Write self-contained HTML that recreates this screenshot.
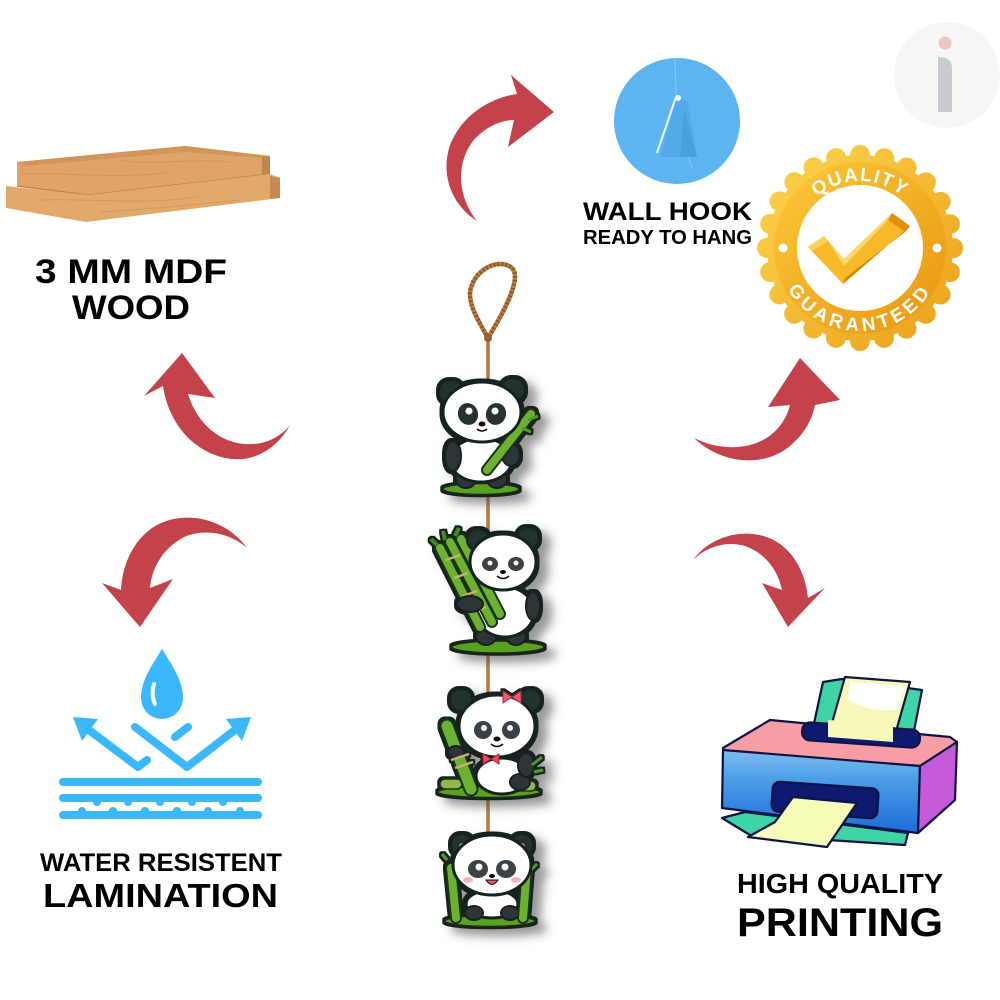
<!DOCTYPE html>
<html>
<head>
<meta charset="utf-8">
<style>
  html,body{margin:0;padding:0;background:#fff;}
  svg{display:block;}
  .t{font-family:"Liberation Sans",Arial,sans-serif;font-weight:bold;fill:#000;}
</style>
</head>
<body>
<svg width="1000" height="1000" viewBox="0 0 1000 1000" xmlns="http://www.w3.org/2000/svg">
  <defs>
    <filter id="sh" x="-30%" y="-30%" width="170%" height="170%">
      <feMorphology in="SourceAlpha" operator="dilate" radius="2.2" result="d"/>
      <feFlood flood-color="#14201f" result="fc"/>
      <feComposite in="fc" in2="d" operator="in" result="o"/>
      <feGaussianBlur in="d" stdDeviation="5" result="b"/>
      <feOffset in="b" dx="9" dy="7" result="bo"/>
      <feFlood flood-color="#444" flood-opacity="0.55" result="sc"/>
      <feComposite in="sc" in2="bo" operator="in" result="s"/>
      <feMerge><feMergeNode in="s"/><feMergeNode in="o"/><feMergeNode in="SourceGraphic"/></feMerge>
    </filter>
    <linearGradient id="gold" x1="0" y1="0" x2="1" y2="1">
      <stop offset="0" stop-color="#fdd44e"/>
      <stop offset="1" stop-color="#eba01a"/>
    </linearGradient>
    <linearGradient id="gold2" x1="0" y1="0" x2="1" y2="1">
      <stop offset="0" stop-color="#fcc93a"/>
      <stop offset="1" stop-color="#e8960f"/>
    </linearGradient>
    <linearGradient id="pblue" x1="0" y1="0" x2="0" y2="1">
      <stop offset="0" stop-color="#7fbdf0"/>
      <stop offset="0.35" stop-color="#4b9fe6"/>
      <stop offset="1" stop-color="#1c6cd6"/>
    </linearGradient>
    <path id="arcTop" d="M793,248 A67,67 0 0 1 927,248"/>
    <path id="arcBot" d="M777,248 A83,83 0 0 0 943,248"/>
  </defs>

  <rect width="1000" height="1000" fill="#fff"/>

  <!-- i logo -->
  <circle cx="947" cy="75" r="53" fill="#f8f6f5"/>
  <circle cx="945" cy="43" r="6.5" fill="#f0c4c6"/>
  <path d="M938,57 Q952,57 952,68 L952,112 L938,112 Z" fill="#cbcbcf"/>

  <!-- Wood planks -->
  <g>
    <polygon points="17,162 185,146 270,156 270,174 88,195 17,186" fill="#e0a466"/>
    <polygon points="17,162 185,146 270,156 262,158 185,152 25,166" fill="#d3965a"/>
    <polygon points="262,157 270,156 270,174 262,175" fill="#bf854d"/>
    <line x1="17" y1="186" x2="88" y2="195" stroke="#b98046" stroke-width="1.2"/>
    <line x1="88" y1="195" x2="270" y2="174" stroke="#b98046" stroke-width="1.2"/>
    <polygon points="6,186 88,195 270,174 280,178 280,198 86,222 6,208" fill="#e3a96b"/>
    <polygon points="270,176 280,178 280,198 270,199" fill="#c48a52"/>
    <path d="M20,174 C70,172 120,180 170,172 M40,200 C90,198 150,206 200,196 M120,160 C150,166 190,158 230,162 M100,212 C140,210 180,206 240,200" stroke="#c78f57" stroke-width="1" fill="none" opacity="0.6"/>
  </g>
  <text class="t" x="35" y="283" font-size="34" textLength="192" lengthAdjust="spacingAndGlyphs">3 MM MDF</text>
  <text class="t" x="72" y="319" font-size="34" textLength="118" lengthAdjust="spacingAndGlyphs">WOOD</text>

  <!-- Red arrows -->
  <g fill="#c4424a">
    <path d="M290,425 C275,444 250,448 230,441 C208,433 194,414 188,394 L215,398 L182,353 L144,396 L163,386 C168,420 190,450 225,458 C255,464 278,447 290,425 Z"/>
    <path d="M477,221 C457,196 456,163 473,141 C486,126 502,120 514,120 L508,147 L554,112 L511,75 L517,94 C490,98 462,115 450,145 C440,175 452,205 477,221 Z"/>
    <path d="M247,548 C226,518 182,508 152,528 C131,543 122,568 121,590 L102,583 L140,627 L173,579 L150,588 C152,566 164,548 184,537 C205,528 230,533 247,548 Z"/>
    <path d="M694,438 C720,463 762,469 790,446 C805,433 812,420 815,405 L840,400 L800,358 L768,407 L790,405 C785,425 770,440 750,445 C730,450 710,446 694,438 Z"/>
    <path d="M693,560 C715,530 760,525 785,548 C800,562 806,580 808,598 L825,588 L788,627 L762,583 L782,590 C778,570 765,553 745,546 C725,540 705,548 693,560 Z"/>
  </g>

  <!-- Wall hook -->
  <circle cx="677" cy="121" r="63" fill="#5db5ef"/>
  <line x1="675" y1="60" x2="676" y2="96" stroke="#8cc9f2" stroke-width="1"/>
  <polygon points="677,96 688,103 697,157 660,157" fill="#52abe8"/>
  <polygon points="684,108 697,157 680,157" fill="#3f96d6" opacity="0.5"/>
  <path d="M676,97 L657,153" stroke="#e8f4fb" stroke-width="2" fill="none"/>
  <circle cx="678" cy="98" r="3" fill="#f4f8fb"/>
  <line x1="688" y1="157" x2="692" y2="168" stroke="#8cc9f2" stroke-width="1"/>
  <text class="t" x="583" y="220" font-size="25" textLength="169" lengthAdjust="spacingAndGlyphs">WALL HOOK</text>
  <text class="t" x="583" y="244" font-size="20.5" textLength="169" lengthAdjust="spacingAndGlyphs">READY TO HANG</text>

  <!-- Quality badge -->
  <g>
    <circle cx="860" cy="248" r="93" fill="url(#gold)"/>
    <circle cx="860" cy="248" r="93" fill="none" stroke="url(#gold)" stroke-width="20" stroke-linecap="round" stroke-dasharray="0 24.347"/>
    <circle cx="860" cy="248" r="86" fill="url(#gold2)"/>
    <circle cx="860" cy="248" r="63" fill="#fff"/>
    <circle cx="783" cy="248" r="4.5" fill="#fff"/>
    <circle cx="937" cy="248" r="4.5" fill="#fff"/>
    <text font-family="Liberation Sans, Arial, sans-serif" font-weight="bold" font-size="19" fill="#fff" letter-spacing="1.5" text-anchor="middle"><textPath href="#arcTop" startOffset="50%">QUALITY</textPath></text>
    <text font-family="Liberation Sans, Arial, sans-serif" font-weight="bold" font-size="19" fill="#fff" letter-spacing="4" text-anchor="middle"><textPath href="#arcBot" startOffset="50%">GUARANTEED</textPath></text>
    <polygon points="808,247 824,236 844,259 892,213 910,226 843,284" fill="#f7b928"/>
    <polygon points="892,213 910,226 905,232 888,220" fill="#e58f0c"/>
    <polygon points="843,284 910,226 905,232 845,278" fill="#d98408"/>
    <polygon points="808,247 824,236 828,241 813,251" fill="#fcd25a"/>
    <polygon points="824,236 844,259 892,213 888,220 844,266 828,241" fill="#fdd86a"/>
  </g>

  <!-- Rope loop & strings -->
  <g fill="none" stroke-linecap="round">
    <path d="M488,338 C478,320 465,300 472,285 C478,268 500,258 512,268 C522,278 505,310 488,338" stroke="#b7793f" stroke-width="4.5"/>
    <path d="M488,338 C478,320 465,300 472,285 C478,268 500,258 512,268 C522,278 505,310 488,338" stroke="#8a5326" stroke-width="4.5" stroke-dasharray="1.5 2.5" stroke-linecap="butt"/>
    <line x1="488" y1="338" x2="488" y2="398" stroke="#b7793f" stroke-width="3.5"/>
    <line x1="488" y1="488" x2="488" y2="548" stroke="#b7793f" stroke-width="3.5"/>
    <line x1="488" y1="645" x2="488" y2="702" stroke="#b7793f" stroke-width="3.5"/>
    <line x1="488" y1="792" x2="488" y2="848" stroke="#b7793f" stroke-width="3.5"/>
    <circle cx="488" cy="338" r="4" fill="#9a6030" stroke="none"/>
  </g>

  <!-- Panda 1 -->
  <g filter="url(#sh)">
    <ellipse cx="481" cy="489" rx="38" ry="5.5" fill="#5aa21e" stroke="#1a2a1a" stroke-width="1.5"/>
    <ellipse cx="466" cy="479" rx="10" ry="9" fill="#2e3538" stroke="#182222" stroke-width="2"/>
    <ellipse cx="497" cy="479" rx="10" ry="9" fill="#2e3538" stroke="#182222" stroke-width="2"/>
    <ellipse cx="481" cy="460" rx="31" ry="22" fill="#fff" stroke="#182222" stroke-width="3"/>
    <ellipse cx="453" cy="456" rx="8" ry="15" fill="#2e3538" stroke="#182222" stroke-width="2"/>
    <ellipse cx="511" cy="455" rx="9" ry="11" fill="#2e3538" stroke="#182222" stroke-width="2"/>
    <line x1="487" y1="470" x2="531" y2="414" stroke="#1b3314" stroke-width="12" stroke-linecap="round"/>
    <line x1="487" y1="470" x2="531" y2="414" stroke="#6cb233" stroke-width="8" stroke-linecap="round"/>
    <path d="M528,420 l10,-4 M522,428 l9,4" stroke="#4f9a2a" stroke-width="3"/>
    <circle cx="451" cy="392" r="12" fill="#22302f" stroke="#182222" stroke-width="2"/>
    <circle cx="513" cy="390" r="12" fill="#22302f" stroke="#182222" stroke-width="2"/>
    <ellipse cx="482" cy="412" rx="39" ry="30" fill="#fff" stroke="#182222" stroke-width="3"/>
    <ellipse cx="468" cy="414" rx="10" ry="11" transform="rotate(-20 468 414)" fill="#263033"/>
    <ellipse cx="496" cy="414" rx="10" ry="11" transform="rotate(20 496 414)" fill="#263033"/>
    <circle cx="469" cy="411" r="3.5" fill="#fff"/>
    <circle cx="495" cy="411" r="3.5" fill="#fff"/>
    <ellipse cx="482" cy="424" rx="3.5" ry="2.5" fill="#111"/>
    <path d="M477,429 q5,4 10,0" stroke="#111" stroke-width="1.5" fill="none"/>
  </g>

  <!-- Panda 2 -->
  <g filter="url(#sh)">
    <ellipse cx="498" cy="647" rx="46" ry="6" fill="#5aa21e" stroke="#1a2a1a" stroke-width="1.5"/>
    <ellipse cx="486" cy="636" rx="10" ry="9" fill="#2e3538" stroke="#182222" stroke-width="2"/>
    <ellipse cx="516" cy="636" rx="10" ry="9" fill="#2e3538" stroke="#182222" stroke-width="2"/>
    <ellipse cx="505" cy="612" rx="29" ry="25" fill="#fff" stroke="#182222" stroke-width="3"/>
    <ellipse cx="533" cy="606" rx="7" ry="14" fill="#2e3538" stroke="#182222" stroke-width="2"/>
    <path d="M440,548 L480,627 M450,542 L492,622 M461,539 L500,614" stroke="#1b3314" stroke-width="12" stroke-linecap="round"/>
    <path d="M440,548 L480,627 M450,542 L492,622 M461,539 L500,614" stroke="#6cb233" stroke-width="8" stroke-linecap="round"/>
    <path d="M446,560 l14,-5 M454,578 l14,-5 M463,596 l14,-5 M472,612 l14,-5" stroke="#c8b070" stroke-width="2.5"/>
    <path d="M437,545 l-6,-6 M445,540 l-2,-9 M455,536 l4,-8" stroke="#3f8a24" stroke-width="4"/>
    <ellipse cx="470" cy="604" rx="13" ry="8" fill="#2e3538" stroke="#182222" stroke-width="2"/>
    <circle cx="478" cy="540" r="11" fill="#22302f" stroke="#182222" stroke-width="2"/>
    <circle cx="528" cy="538" r="11" fill="#22302f" stroke="#182222" stroke-width="2"/>
    <ellipse cx="503" cy="562" rx="33" ry="28" fill="#fff" stroke="#182222" stroke-width="3"/>
    <ellipse cx="490" cy="564" rx="8" ry="7" fill="#3a4246"/>
    <ellipse cx="516" cy="564" rx="8" ry="7" fill="#3a4246"/>
    <circle cx="490" cy="563" r="2.5" fill="#fff"/>
    <circle cx="516" cy="563" r="2.5" fill="#fff"/>
    <ellipse cx="503" cy="572" rx="3" ry="2" fill="#111"/>
    <path d="M497,576 q6,5 12,0" stroke="#111" stroke-width="1.5" fill="none"/>
  </g>

  <!-- Panda 3 -->
  <g filter="url(#sh)">
    <ellipse cx="489" cy="792" rx="51" ry="5.5" fill="#5aa21e" stroke="#1a2a1a" stroke-width="1.5"/>
    <rect x="440" y="779" width="22" height="10" rx="5" fill="#8fb84a" stroke="#1b3314" stroke-width="1.5"/>
    <rect x="512" y="781" width="24" height="10" rx="5" fill="#8fb84a" stroke="#1b3314" stroke-width="1.5"/>
    <ellipse cx="502" cy="776" rx="26" ry="18" fill="#fff" stroke="#182222" stroke-width="3"/>
    <ellipse cx="520" cy="782" rx="10" ry="8" fill="#2e3538" stroke="#182222" stroke-width="2"/>
    <ellipse cx="526" cy="765" rx="8" ry="12" fill="#2e3538" stroke="#182222" stroke-width="2"/>
    <path d="M532,765 l10,-8 M534,772 l9,-2" stroke="#4f9a2a" stroke-width="3"/>
    <line x1="447" y1="726" x2="471" y2="789" stroke="#1b3314" stroke-width="15" stroke-linecap="round"/>
    <line x1="447" y1="726" x2="471" y2="789" stroke="#6cb233" stroke-width="11" stroke-linecap="round"/>
    <ellipse cx="456" cy="752" rx="8" ry="6" fill="#2e3538" stroke="#182222" stroke-width="2"/>
    <path d="M451,760 l18,-6 M455,768 l18,-6" stroke="#c8b070" stroke-width="2.5"/>
    <circle cx="461" cy="700" r="11" fill="#22302f" stroke="#182222" stroke-width="2"/>
    <circle cx="530" cy="700" r="11" fill="#22302f" stroke="#182222" stroke-width="2"/>
    <ellipse cx="497" cy="726" rx="38" ry="31" fill="#fff" stroke="#182222" stroke-width="3"/>
    <path d="M512,697 l-9,-6 v12 Z M512,697 l9,-6 v12 Z" fill="#f05a6a" stroke="#b02a3a" stroke-width="1"/>
    <ellipse cx="483" cy="730" rx="9" ry="9" fill="#3a4246"/>
    <ellipse cx="511" cy="730" rx="9" ry="9" fill="#3a4246"/>
    <circle cx="484" cy="728" r="3" fill="#fff"/>
    <circle cx="510" cy="728" r="3" fill="#fff"/>
    <ellipse cx="497" cy="739" rx="3.5" ry="2.5" fill="#111"/>
    <path d="M491,744 q6,5 12,0" stroke="#111" stroke-width="1.5" fill="none"/>
    <path d="M491,759 l-8,-5 v10 Z M491,759 l8,-5 v10 Z" fill="#ef4a55" stroke="#a02030" stroke-width="1"/>
  </g>

  <!-- Panda 4 -->
  <g filter="url(#sh)">
    <ellipse cx="490" cy="921" rx="45" ry="5.5" fill="#5aa21e" stroke="#1a2a1a" stroke-width="1.5"/>
    <ellipse cx="492" cy="904" rx="26" ry="14" fill="#fff" stroke="#182222" stroke-width="3"/>
    <ellipse cx="474" cy="913" rx="9" ry="7" fill="#2e3538" stroke="#182222" stroke-width="2"/>
    <ellipse cx="510" cy="913" rx="9" ry="7" fill="#2e3538" stroke="#182222" stroke-width="2"/>
    <path d="M451,868 L456,918 M527,868 L523,918" stroke="#1b3314" stroke-width="12" stroke-linecap="round"/>
    <path d="M451,868 L456,918 M527,868 L523,918" stroke="#6cb233" stroke-width="8" stroke-linecap="round"/>
    <path d="M447,860 l-5,-6 M531,870 l6,-6" stroke="#4f9a2a" stroke-width="3"/>
    <circle cx="462" cy="845" r="11" fill="#22302f" stroke="#182222" stroke-width="2"/>
    <circle cx="522" cy="845" r="11" fill="#22302f" stroke="#182222" stroke-width="2"/>
    <circle cx="463" cy="847" r="4" fill="#f0a0b0"/>
    <circle cx="521" cy="847" r="4" fill="#f0a0b0"/>
    <ellipse cx="492" cy="865" rx="39" ry="30" fill="#fff" stroke="#182222" stroke-width="3"/>
    <ellipse cx="478" cy="869" rx="10" ry="9" fill="#3a4246"/>
    <ellipse cx="506" cy="869" rx="10" ry="9" fill="#3a4246"/>
    <circle cx="479" cy="867" r="3.5" fill="#fff"/>
    <circle cx="505" cy="867" r="3.5" fill="#fff"/>
    <ellipse cx="468" cy="880" rx="5" ry="3" fill="#f7b3c0"/>
    <ellipse cx="516" cy="880" rx="5" ry="3" fill="#f7b3c0"/>
    <ellipse cx="492" cy="876" rx="3" ry="2" fill="#111"/>
    <path d="M486,880 q6,9 12,0 Z" fill="#e05570" stroke="#111" stroke-width="1"/>
  </g>

  <!-- Water resistant icon -->
  <g stroke="#3bb8fb" stroke-width="8" stroke-linecap="round" stroke-linejoin="round" fill="none">
    <line x1="63" y1="782" x2="258" y2="782"/>
    <line x1="63" y1="798" x2="258" y2="798"/>
    <line x1="63" y1="815" x2="258" y2="815"/>
    <polyline points="147,760 138,767 85,727"/>
    <polyline points="135,727 187,767 240,726"/>
    <line x1="175" y1="737" x2="188" y2="727"/>
  </g>
  <g fill="#3bb8fb">
    <circle cx="97" cy="802" r="4"/><circle cx="128" cy="802" r="4"/><circle cx="160" cy="802" r="4"/><circle cx="192" cy="802" r="4"/><circle cx="223" cy="802" r="4"/>
    <circle cx="82" cy="811" r="4"/><circle cx="113" cy="811" r="4"/><circle cx="145" cy="811" r="4"/><circle cx="177" cy="811" r="4"/><circle cx="208" cy="811" r="4"/><circle cx="240" cy="811" r="4"/>
    <polygon points="73,717 98,719 82,741"/>
    <polygon points="251,717 226,719 242,741"/>
    <path d="M162,649 C150,668 141,682 141,698 A21,21 0 0 0 183,698 C183,682 174,668 162,649 Z"/>
  </g>
  <path d="M154,684 C152,691 152,698 155,704" stroke="#fff" stroke-width="4" stroke-linecap="round" fill="none"/>
  <text class="t" x="40" y="871" font-size="25" textLength="242" lengthAdjust="spacingAndGlyphs">WATER RESISTENT</text>
  <text class="t" x="43" y="907" font-size="33" textLength="235" lengthAdjust="spacingAndGlyphs">LAMINATION</text>

  <!-- Printer -->
  <g stroke="#0d1445" stroke-width="2.2" stroke-linejoin="round">
    <polygon points="823,682 842,679 922,690 914,731 813,728" fill="#3fd4a6"/>
    <polygon points="845,677 910,682 893,742 828,737" fill="#f7f9b8"/>
    <path d="M850,682 L905,686 L898,710 Q870,712 848,700 Z" fill="#fff" stroke="none"/>
    <polygon points="723,748 770,720 950,737 957,742 920,766 724,752" fill="#f99da5"/>
    <rect x="802" y="726" width="118" height="18" rx="8" fill="#0d1a70" transform="rotate(4 861 735)"/>
    <polygon points="828,720 893,724 893,742 828,737" fill="#f7f9b8" stroke="none"/>
    <polygon points="723,750 920,766 918,833 722,808" fill="url(#pblue)"/>
    <polygon points="920,766 957,742 955,800 918,833" fill="#c55bd9"/>
    <rect x="772" y="785" width="106" height="30" rx="7" fill="#0d1a70" transform="rotate(4 825 800)"/>
    <polygon points="722,818 745,812 908,833 905,845 750,835" fill="#3fd4a6"/>
    <polygon points="793,797 857,803 827,847 748,837 775,822" fill="#f7fbb8"/>
  </g>
  <text class="t" x="737" y="893" font-size="27.5" textLength="206" lengthAdjust="spacingAndGlyphs">HIGH QUALITY</text>
  <text class="t" x="737" y="936" font-size="40" textLength="206" lengthAdjust="spacingAndGlyphs">PRINTING</text>
</svg>
</body>
</html>
